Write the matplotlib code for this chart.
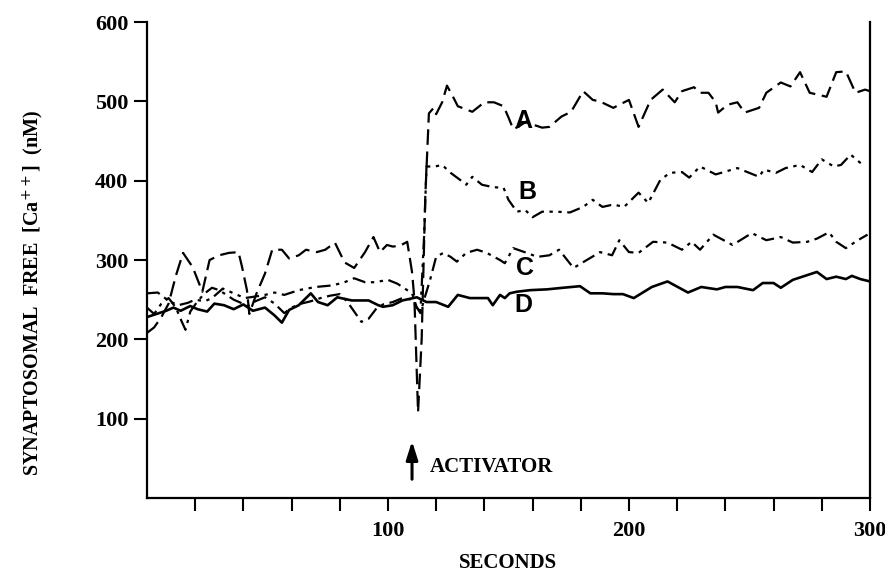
import matplotlib.pyplot as plt

# curva A (trazos)
a_x = [0, 3, 6, 9, 12, 15, 19, 23, 26, 30, 34, 38, 39.5, 41.5, 42.5, 45.5, 49, 52, 56, 59, 63, 66, 70.5, 74, 78, 82, 86,
       90.5, 94, 96.7, 99.6, 102, 105, 108, 110, 111, 112.5, 114, 115.5, 117, 119, 120, 122.5, 124.5, 127, 129, 132.5,
       135, 140, 144, 148, 150, 152, 154, 157.6, 160, 164, 167, 172, 176, 181, 185, 188, 193.5, 200, 204, 209, 214,
       219, 222, 227, 229.5, 233, 236, 237, 241, 245, 248, 254, 257, 263, 267, 271, 275, 282, 286, 290, 294, 298, 300]
a_y = [208, 215, 228, 245, 280, 309, 291, 260, 300, 306, 309, 310, 291, 262, 232, 258, 283, 313, 313, 302, 306, 313, 310,
       313, 322, 297, 290, 310, 329, 310, 319, 317, 318, 323, 285, 250, 108, 200, 380, 485, 492, 484, 499, 520, 506, 494,
       490, 487, 499, 499, 494, 480, 465, 468, 475, 471, 467, 468, 481, 487, 513, 502, 500, 492, 502, 468, 502, 515, 499,
       513, 518, 511, 511, 499, 486, 496, 499, 486, 492, 511, 524, 519, 537, 511, 506, 537, 538, 511, 515, 513]

# curva B (raya-punto-punto)
b_x = [0, 4.5, 7.5, 10, 13, 17, 20, 24, 27, 31.5, 36, 40.6, 45, 49, 53, 57, 63, 70, 77, 82, 86, 90.5, 94.6, 100, 104,
       108, 110, 112, 113.5, 115, 116, 119.5, 122.5, 126, 130, 132.5, 135, 139, 143.5, 148, 150, 153.5, 157, 160, 164,
       170, 175.5, 181, 185, 189, 193.5, 198, 204, 208, 213, 217, 222, 225, 229.5, 236, 245, 254, 256, 261, 265, 271,
       276, 280, 285, 288, 292, 297]
b_y = [258, 259, 252, 247, 243, 246, 250, 248, 252, 264, 258, 252, 254, 256, 259, 256, 262, 266, 268, 272, 277, 272, 272,
       275, 270, 262, 258, 240, 235, 330, 418, 418, 420, 410, 401, 395, 405, 395, 392, 391, 376, 361, 363, 354, 361, 361,
       360, 367, 376, 367, 370, 367, 385, 372, 401, 410, 411, 404, 418, 408, 416, 405, 414, 410, 416, 420, 411, 427, 418,
       420, 433, 420]

# curva C (raya-punto)
c_x = [0, 3, 6, 9, 12, 14.5, 16, 18, 21, 24, 27, 30, 33, 36, 39, 42, 45, 49, 53, 57, 60, 64, 68, 72, 76, 80, 83, 86, 89,
       92, 95, 98, 102, 106, 110, 112, 113.5, 115, 117.5, 120, 123, 126, 128.6, 132.5, 137, 141, 146.5, 148.5, 152,
       157.6, 162, 167, 171, 177, 182.5, 188, 193, 196, 200, 204, 210, 216, 222, 226, 229.5, 235, 243, 251, 257, 263,
       268, 274, 278, 283, 286, 290, 295, 299]
c_y = [240, 232, 245, 252, 240, 222, 212, 235, 248, 258, 265, 262, 256, 250, 246, 242, 248, 253, 245, 233, 240, 245, 248,
       252, 255, 257, 248, 235, 222, 226, 238, 244, 247, 252, 250, 240, 233, 250, 275, 304, 309, 304, 298, 309, 313, 309,
       300, 296, 315, 309, 304, 306, 313, 290, 300, 310, 306, 325, 310, 309, 323, 322, 313, 323, 313, 332, 319, 334, 325,
       329, 322, 323, 327, 335, 323, 315, 325, 332]

# curva D (continua)
d_x = [0, 4, 8, 11, 14, 18, 21, 25, 28, 32, 36, 40, 44, 49, 53, 56, 59, 63, 68, 71, 75, 79, 85, 92, 96, 98, 102, 106,
       112, 116, 120, 125, 129, 134, 141.5, 143.5, 146.5, 148.5, 150.5, 153.5, 159, 166, 172.6, 179.7, 184, 189, 193.5,
       197.5, 202, 209.5, 216, 224.5, 230, 236.5, 240, 245, 251.5, 255.5, 260, 263, 268, 274, 278, 282, 286, 290,
       292.5, 296, 300]
d_y = [228, 232, 236, 240, 236, 242, 238, 235, 245, 243, 238, 244, 236, 240, 230, 221, 237, 243, 258, 247, 243, 253, 249,
       249, 243, 241, 243, 249, 253, 247, 247, 241, 256, 252, 252, 243, 256, 252, 258, 260, 262, 263, 265, 267, 258, 258,
       257, 257, 252, 266, 273, 259, 266, 263, 266, 266, 262, 271, 271, 265, 275, 281, 285, 276, 279, 276, 280, 276, 273]

etiquetas = ['A', 'B', 'C', 'D']
etiqueta_x = [156, 158, 157, 156]
etiqueta_y = [475, 386, 290, 243]

serif = ['Liberation Serif', 'DejaVu Serif']

fig = plt.figure(figsize=(8.85, 5.85), dpi=100)
ax = fig.add_axes([0.166, 0.149, 0.817, 0.813])

lw = 1.6
ax.plot(a_x, a_y, color='black', lw=lw, linestyle=(0, (7, 3)))
ax.plot(b_x, b_y, color='black', lw=lw, linestyle=(0, (6, 2.5, 1.5, 2.5, 1.5, 2.5)))
ax.plot(c_x, c_y, color='black', lw=lw, linestyle=(0, (6, 2.5, 1.5, 2.5)))
ax.plot(d_x, d_y, color='black', lw=lw + 0.3, linestyle='-')

for t, x, y in zip(etiquetas, etiqueta_x, etiqueta_y):
    ax.text(x, y, t, fontsize=18, fontweight='bold', family=['Liberation Sans', 'DejaVu Sans'],
            ha='center', va='center')

# flecha del activador
ax.annotate('', xy=(110, 75), xytext=(110, 20),
            arrowprops=dict(arrowstyle='-|>,head_width=0.35,head_length=1.1', color='black', lw=2.2))
ax.text(117.5, 39, 'ACTIVATOR', fontsize=15, fontweight='bold', family=serif, va='center', ha='left')

ax.set_xlim(0, 300)
ax.set_ylim(0, 600)
ax.set_xticks(range(20, 301, 20))
ax.set_xticklabels(['' if v % 100 else str(v) for v in range(20, 301, 20)])
ax.set_yticks(range(100, 601, 100))
ax.tick_params(direction='out', length=9.5, width=1.5, pad=4)
ax.tick_params(axis='x', pad=7)
for lab in ax.get_xticklabels() + ax.get_yticklabels():
    lab.set_fontweight('bold')
    lab.set_family(serif)
    lab.set_fontsize(16)

ax.spines['top'].set_visible(False)
for s in ['left', 'bottom', 'right']:
    ax.spines[s].set_linewidth(1.6)

ax.set_xlabel('SECONDS', fontsize=15, fontweight='bold', family=serif, labelpad=9)
ax.set_ylabel('SYNAPTOSOMAL  FREE  [Ca$^{++}$]  (nM)', fontsize=14.5, fontweight='bold', family=serif)
ax.yaxis.set_label_coords(-0.14, 0.43)

plt.savefig('out.png', dpi=100)
